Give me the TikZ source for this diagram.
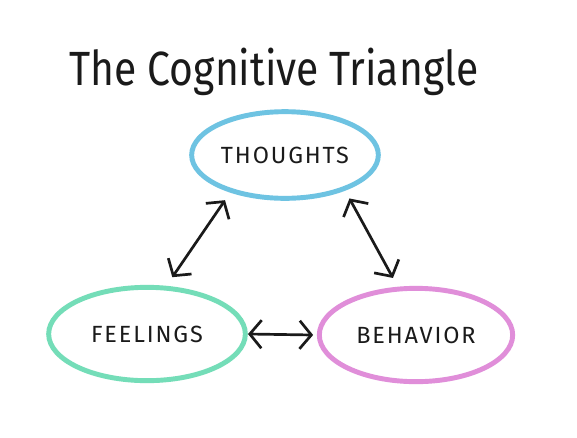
\documentclass[tikz,border=0pt]{standalone}
\usepackage{fontspec}
\setmainfont{Fira Sans}
\usepackage{tikz}
\usetikzlibrary{arrows.meta,shapes.geometric}

\definecolor{thoughtblue}{HTML}{6EC3E2}
\definecolor{feelgreen}{HTML}{74DDB8}
\definecolor{behavpink}{HTML}{E08ED9}
\definecolor{ink}{HTML}{1A1A1A}

\begin{document}
\begin{tikzpicture}[
  x=0.03cm, y=-0.03cm,
  mood/.style={ellipse, draw, line width=4.2pt, inner sep=0pt, outer sep=10pt,
    minimum width=5.6cm, minimum height=2.6cm, text=ink,
    font=\fontsize{20}{20}\selectfont\addfontfeatures{LetterSpace=8}},
  link/.style={draw=ink, line width=2.3pt, line cap=round,
    {Straight Barb[length=10pt,width=24pt,line width=2.3pt]}-{Straight Barb[length=10pt,width=24pt,line width=2.3pt]}}
]
\useasboundingbox[fill=white] (0,0) rectangle (577,437);

% title
\node[text=ink, font=\fontsize{41}{41}\selectfont] (title) at (274,72)
  {\scalebox{0.85}[1]{The Cognitive Triangle}};

% the three corners
\node[mood, draw=thoughtblue] (thoughts) at (285,155) {THOUGHTS};
\node[mood, draw=feelgreen, minimum width=5.9cm, minimum height=2.8cm] (feelings) at (147,334) {FEELINGS};
\node[mood, draw=behavpink, minimum width=5.8cm, minimum height=2.8cm] (behavior) at (416,335) {BEHAVIOR};

% arrows between them
\draw[link] (thoughts.217) -- (feelings.66);
\draw[link] (thoughts.326) -- (behavior.112);
\draw[link] ([xshift=-7.7pt]feelings.east) -- ([xshift=4.7pt]behavior.west);
\end{tikzpicture}
\end{document}
